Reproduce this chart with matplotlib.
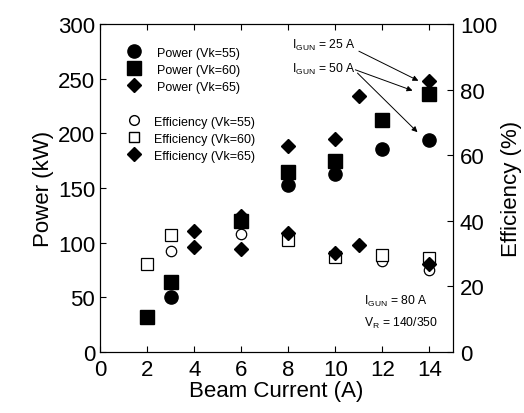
import matplotlib
matplotlib.use('Agg')
import matplotlib.pyplot as plt
from matplotlib.lines import Line2D

plt.rcParams['font.family'] = ['Liberation Sans', 'DejaVu Sans']
plt.rcParams['mathtext.fontset'] = 'custom'
plt.rcParams['mathtext.rm'] = 'Liberation Sans'

#%% data
# power (kW)
x_p55 = [3, 6, 8, 10, 12, 14]
p55 = [50, 119, 153, 163, 186, 194]
x_p60 = [2, 3, 6, 8, 10, 12, 14]
p60 = [32, 64, 120, 165, 175, 212, 236]
x_p65 = [4, 6, 8, 10, 11, 14]
p65 = [111, 124, 188, 195, 234, 248]
# efficiency (%)
x_e55 = [3, 6, 8, 10, 12, 14]
e55 = [30.8, 36, 34.5, 29, 27.8, 25]
x_e60 = [2, 3, 8, 10, 12, 14]
e60 = [26.8, 35.7, 34.2, 29, 29.6, 28.7]
x_e65 = [4, 6, 8, 10, 11, 14]
e65 = [32, 31.4, 36.3, 30.2, 32.7, 27]

fs = 16

#%% figure
fig = plt.figure(figsize=(5.24, 4.14), dpi=100)
ax = fig.add_axes([0.191, 0.147, 0.6735, 0.793])
ax2 = ax.twinx()

ax.plot(x_p55, p55, 'o', color='k', ms=9.5, ls='')
ax.plot(x_p60, p60, 's', color='k', ms=9.5, ls='')
ax.plot(x_p65, p65, 'D', color='k', ms=7.5, ls='')

ax2.plot(x_e55, e55, 'o', mfc='white', mec='k', mew=0.9, ms=7.5, ls='')
ax2.plot(x_e60, e60, 's', mfc='white', mec='k', mew=0.9, ms=8, ls='')
ax2.plot(x_e65, e65, 'D', color='k', ms=7.5, ls='')

ax.set_xlim(0, 15)
ax.set_ylim(0, 300)
ax2.set_ylim(0, 100)
ax.set_xticks(range(0, 15, 2))
ax.set_yticks(range(0, 301, 50))
ax2.set_yticks(range(0, 101, 20))

ax.tick_params(axis='both', direction='in', labelsize=fs, top=True, right=False, length=4)
ax2.tick_params(axis='y', direction='in', labelsize=fs, length=4, pad=5)
ax.tick_params(axis='x', pad=5)

ax.set_xlabel('Beam Current (A)', fontsize=fs, labelpad=0)
ax.set_ylabel('Power (kW)', fontsize=fs, labelpad=3)
ax2.set_ylabel('Efficiency (%)', fontsize=fs, labelpad=3)

# legends: power group and efficiency group
h_pow = [
    Line2D([], [], marker='o', color='k', ls='', ms=9.5),
    Line2D([], [], marker='s', color='k', ls='', ms=9.5),
    Line2D([], [], marker='D', color='k', ls='', ms=7.5),
]
h_eff = [
    Line2D([], [], marker='o', mfc='white', mec='k', ls='', ms=7),
    Line2D([], [], marker='s', mfc='white', mec='k', ls='', ms=7),
    Line2D([], [], marker='D', color='k', ls='', ms=7.5),
]
lab_pow = ['Power (Vk=55)', 'Power (Vk=60)', 'Power (Vk=65)']
lab_eff = ['Efficiency (Vk=55)', 'Efficiency (Vk=60)', 'Efficiency (Vk=65)']
leg1 = ax.legend(h_pow, lab_pow, loc='upper left', frameon=False, fontsize=9,
                 handletextpad=0.8, labelspacing=0.4, bbox_to_anchor=(0.03, 0.965))
ax.add_artist(leg1)
ax.legend(h_eff, lab_eff, loc='upper left', frameon=False, fontsize=9,
          handletextpad=0.6, labelspacing=0.4, bbox_to_anchor=(0.028, 0.755))

# annotations
ax.text(8.17, 281, r'I$_{\mathrm{GUN}}$ = 25 A', fontsize=8.7, va='center')
ax.text(8.17, 259, r'I$_{\mathrm{GUN}}$ = 50 A', fontsize=8.7, va='center')
aprops = dict(arrowstyle='-|>', color='k', lw=0.7, mutation_scale=8, shrinkA=0, shrinkB=0)
ax.annotate('', xy=(13.53, 248), xytext=(11.0, 275), arrowprops=aprops)
ax.annotate('', xy=(13.28, 239), xytext=(10.85, 258), arrowprops=aprops)
ax.annotate('', xy=(13.49, 201), xytext=(10.94, 255), arrowprops=aprops)

ax.text(11.2, 47, r'I$_{\mathrm{GUN}}$ = 80 A', fontsize=8.7, va='center')
ax.text(11.2, 27, r'V$_{\mathrm{R}}$ = 140/350', fontsize=8.7, va='center')

plt.savefig('out.png', dpi=100)
